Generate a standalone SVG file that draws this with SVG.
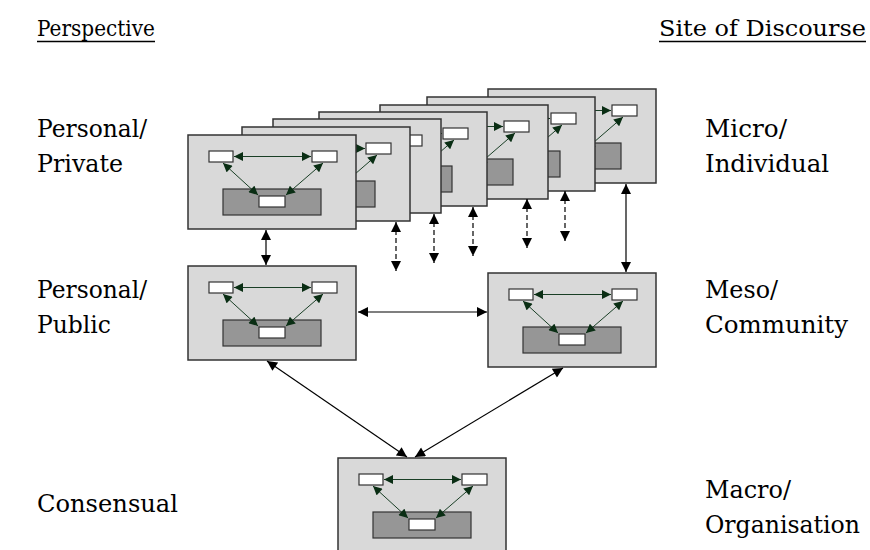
<svg xmlns="http://www.w3.org/2000/svg" xmlns:xlink="http://www.w3.org/1999/xlink" width="870" height="550" viewBox="0 0 870 550">
<style>
.card{fill:#d9d9d9;stroke:#333;stroke-width:1.5}
.dark{fill:#969696;stroke:#333;stroke-width:1.2}
.wb{fill:#fff;stroke:#333;stroke-width:1.2}
.ga{stroke:#1a3f26;stroke-width:1;fill:none;marker-start:url(#gh);marker-end:url(#gh)}
.ba{stroke:#000;stroke-width:1.2;fill:none;marker-start:url(#bh);marker-end:url(#bh)}
.da{stroke-dasharray:5 3}
.ul{stroke:#000;stroke-width:1.5}
</style>
<defs>
<marker id="gh" viewBox="0 0 10 10" refX="10" refY="5" markerWidth="10" markerHeight="9" markerUnits="userSpaceOnUse" orient="auto-start-reverse">
<path d="M0,0 L10,5 L0,10 z" fill="#0a2e14"/>
</marker>
<marker id="bh" viewBox="0 0 10 10" refX="10" refY="5" markerWidth="11" markerHeight="10" markerUnits="userSpaceOnUse" orient="auto-start-reverse">
<path d="M0,0 L10,5 L0,10 z" fill="#000"/>
</marker>
<g id="tpl">
<rect class="card" x="0" y="0" width="168" height="94"/>
<rect class="wb" x="21" y="16" width="24" height="11"/>
<rect class="wb" x="124" y="16" width="25" height="11"/>
<rect class="dark" x="35" y="54" width="98" height="26"/>
<rect class="wb" x="71" y="61" width="26" height="11"/>
<line class="ga" x1="46" y1="21.5" x2="123" y2="21.5"/>
<line class="ga" x1="35" y1="28" x2="70" y2="60"/>
<line class="ga" x1="135" y1="28" x2="98" y2="60"/>
</g>
</defs>
<rect width="870" height="550" fill="#fff"/>
<g id="headers" font-family="DejaVu Serif, serif" font-size="23" fill="#000">
<text x="37" y="36" textLength="118" lengthAdjust="spacingAndGlyphs">Perspective</text>
<line class="ul" x1="37" y1="41.5" x2="155" y2="41.5"/>
<text x="659" y="36" textLength="207" lengthAdjust="spacingAndGlyphs">Site of Discourse</text>
<line class="ul" x1="659" y1="41.5" x2="866" y2="41.5"/>
</g>
<g id="labelsLeft" font-family="DejaVu Serif, serif" font-size="25" fill="#000">
<text x="37" y="137" textLength="110" lengthAdjust="spacingAndGlyphs">Personal/</text>
<text x="37" y="172" textLength="86" lengthAdjust="spacingAndGlyphs">Private</text>
<text x="37" y="298" textLength="110" lengthAdjust="spacingAndGlyphs">Personal/</text>
<text x="37" y="333" textLength="74" lengthAdjust="spacingAndGlyphs">Public</text>
<text x="37" y="512" textLength="141" lengthAdjust="spacingAndGlyphs">Consensual</text>
</g>
<g id="labelsRight" font-family="DejaVu Serif, serif" font-size="25" fill="#000">
<text x="705" y="137" textLength="82" lengthAdjust="spacingAndGlyphs">Micro/</text>
<text x="705" y="172" textLength="124" lengthAdjust="spacingAndGlyphs">Individual</text>
<text x="705" y="298" textLength="73" lengthAdjust="spacingAndGlyphs">Meso/</text>
<text x="705" y="333" textLength="143" lengthAdjust="spacingAndGlyphs">Community</text>
<text x="705" y="498" textLength="86" lengthAdjust="spacingAndGlyphs">Macro/</text>
<text x="705" y="533" textLength="155" lengthAdjust="spacingAndGlyphs">Organisation</text>
</g>
<g id="stack">
<use id="card1" xlink:href="#tpl" x="488" y="89"/>
<use id="card2" xlink:href="#tpl" x="427" y="97"/>
<use id="card3" xlink:href="#tpl" x="380" y="105"/>
<use id="card4" xlink:href="#tpl" x="319" y="112"/>
<use id="card5" xlink:href="#tpl" x="273" y="119"/>
<use id="card6" xlink:href="#tpl" x="242" y="127"/>
<use id="card7" xlink:href="#tpl" x="188" y="135"/>
</g>
<g id="publicBox"><use xlink:href="#tpl" x="188" y="266"/></g>
<g id="communityBox"><use xlink:href="#tpl" x="488" y="273"/></g>
<g id="consensualBox"><use xlink:href="#tpl" x="338" y="458"/></g>
<g id="connectors">
<line class="ba" x1="266" y1="230" x2="266" y2="265"/>
<line class="ba da" x1="396" y1="222" x2="396" y2="271"/>
<line class="ba da" x1="434" y1="214" x2="434" y2="263"/>
<line class="ba da" x1="473" y1="207" x2="473" y2="256"/>
<line class="ba da" x1="527" y1="199" x2="527" y2="248"/>
<line class="ba da" x1="565" y1="191" x2="565" y2="241"/>
<line class="ba" x1="626" y1="184" x2="626" y2="272"/>
<line class="ba" x1="358" y1="312" x2="487" y2="312"/>
<line class="ba" x1="267" y1="361" x2="407" y2="457"/>
<line class="ba" x1="563" y1="368" x2="415" y2="457"/>
</g>
</svg>
